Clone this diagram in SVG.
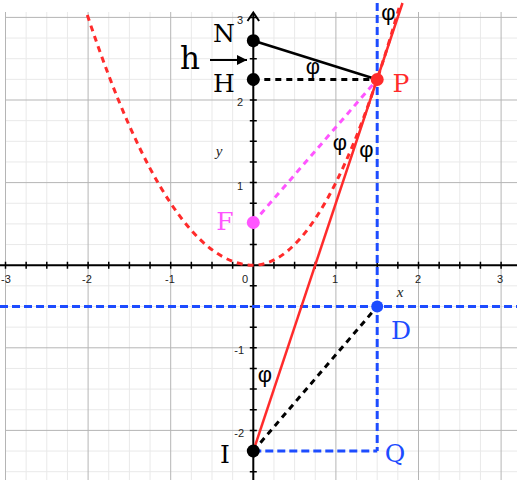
<svg xmlns="http://www.w3.org/2000/svg" width="517" height="480" viewBox="0 0 517 480">
<style>
.minor{stroke:#e9e9e9;stroke-width:1;fill:none}
.major{stroke:#b5b5b5;stroke-width:1;fill:none}
.axis{stroke:#000;stroke-width:2;fill:none}
.tick{stroke:#000;stroke-width:1.5;fill:none}
.tl{font-family:"Liberation Sans",Arial,sans-serif;font-size:11px;fill:#222}
.tlx{text-anchor:middle}
.tly{text-anchor:end}
.big{font-family:'DejaVu Serif','Liberation Serif',serif;font-size:25px;text-anchor:middle}
.phi{font-family:"Liberation Sans",Arial,sans-serif;font-size:22px;text-anchor:middle;fill:#000}
.ax{font-family:"Liberation Serif","Times New Roman",serif;font-style:italic;font-size:15px;text-anchor:middle;fill:#222}
.dash{stroke-width:3;stroke-dasharray:6 5;fill:none}
.bdash{stroke:#1d4cff;stroke-width:3;stroke-dasharray:8 4;fill:none}
</style>
<defs>
<marker id="ah" viewBox="0 0 10 10" refX="10" refY="5" markerWidth="5" markerHeight="5" orient="auto" markerUnits="strokeWidth">
<path d="M0,0 L10,5 L0,10 z" fill="#000"/>
</marker>
</defs>
<rect width="517" height="480" fill="#fff"/>
<g id="grid">
<path class="minor" d="M26.15 12V480M46.8 12V480M67.45 12V480M108.75 12V480M129.4 12V480M150.05 12V480M191.35 12V480M212 12V480M232.65 12V480M273.95 12V480M294.6 12V480M315.25 12V480M356.55 12V480M377.2 12V480M397.85 12V480M439.15 12V480M459.8 12V480M480.45 12V480
M5.5 38.05H517M5.5 58.7H517M5.5 79.35H517M5.5 120.65H517M5.5 141.3H517M5.5 161.95H517M5.5 203.25H517M5.5 223.9H517M5.5 244.55H517M5.5 285.85H517M5.5 306.5H517M5.5 327.15H517M5.5 368.45H517M5.5 389.1H517M5.5 409.75H517M5.5 451.05H517M5.5 471.7H517"/>
<path class="major" d="M5.5 12V480M88.1 12V480M170.7 12V480M335.9 12V480M418.5 12V480M501.1 12V480M5.5 17.4H517M5.5 100H517M5.5 182.6H517M5.5 347.8H517M5.5 430.4H517"/>
</g>
<g id="axes">
<path class="axis" d="M0 265.2H517M253.3 480V13"/>
<path class="axis" d="M247.5 21L253.3 12.5L259.1 21"/>
<path class="tick" d="M5.5 261.7v7M26.15 261.7v7M46.8 261.7v7M67.45 261.7v7M88.1 261.7v7M108.75 261.7v7M129.4 261.7v7M150.05 261.7v7M170.7 261.7v7M191.35 261.7v7M212 261.7v7M232.65 261.7v7M273.95 261.7v7M294.6 261.7v7M315.25 261.7v7M335.9 261.7v7M356.55 261.7v7M377.2 261.7v7M397.85 261.7v7M418.5 261.7v7M439.15 261.7v7M459.8 261.7v7M480.45 261.7v7M501.1 261.7v7
M249.8 17.4h7M249.8 38.05h7M249.8 58.7h7M249.8 79.35h7M249.8 100h7M249.8 120.65h7M249.8 141.3h7M249.8 161.95h7M249.8 182.6h7M249.8 203.25h7M249.8 223.9h7M249.8 244.55h7M249.8 285.85h7M249.8 306.5h7M249.8 327.15h7M249.8 347.8h7M249.8 368.45h7M249.8 389.1h7M249.8 409.75h7M249.8 430.4h7M249.8 451.05h7M249.8 471.7h7"/>
<text class="tl tlx" x="6" y="283">-3</text>
<text class="tl tlx" x="87" y="283">-2</text>
<text class="tl tlx" x="170" y="283">-1</text>
<text class="tl tlx" x="245" y="283">0</text>
<text class="tl tlx" x="335" y="283">1</text>
<text class="tl tlx" x="418" y="283">2</text>
<text class="tl tlx" x="500" y="283">3</text>
<text class="tl tly" x="243" y="24">3</text>
<text class="tl tly" x="243" y="106">2</text>
<text class="tl tly" x="243" y="190">1</text>
<text class="tl tly" x="244" y="354">-1</text>
<text class="tl tly" x="244" y="437">-2</text>
<text class="ax" x="400" y="297">x</text>
<text class="ax" x="219" y="156">y</text>
</g>
<g id="connectors">
<path id="parabola" class="dash" stroke="#ff2b2b" d="M87.3 15Q170.3 265.2 253.3 265.2Q326.8 265.2 400.3 3.4"/>
<path id="directrix" class="bdash" d="M0 306.5H517"/>
<path id="vline" class="bdash" d="M377.2 3V451"/>
<path id="IQ" class="bdash" d="M253.3 451H377.2"/>
<path id="HP" class="dash" stroke="#000" d="M253.3 79.5H377.2"/>
<path id="NP" stroke="#000" stroke-width="2.5" fill="none" d="M253.3 40.7L377.2 79.5"/>
<path id="FP" class="dash" stroke="#ff55ff" d="M253.3 222.5L377.2 79.5"/>
<path id="ID" class="dash" stroke="#000" d="M253.3 451L377.2 306.5"/>
<path id="tangent" stroke="#ff2b2b" stroke-width="2.5" fill="none" d="M253.3 451L402.5 3"/>
<path id="harrow" stroke="#000" stroke-width="2" fill="none" marker-end="url(#ah)" d="M210 60H247"/>
</g>
<g id="N"><circle cx="253.3" cy="40.7" r="6.5" fill="#000"/><text class="big" x="224" y="42" fill="#000">N</text></g>
<g id="H"><circle cx="253.3" cy="79.5" r="6.5" fill="#000"/><text class="big" x="224" y="92" fill="#000">H</text></g>
<g id="P"><circle cx="377.2" cy="79.5" r="6.5" fill="#ff2b2b"/><text class="big" x="401" y="92" fill="#ff2b2b">P</text></g>
<g id="F"><circle cx="253.3" cy="222.5" r="6.5" fill="#ff55ff"/><text class="big" x="225" y="230" fill="#ff55ff">F</text></g>
<g id="D"><circle cx="377.2" cy="306.5" r="6" fill="#1d4cff"/><text class="big" x="401" y="339" fill="#1d4cff">D</text></g>
<g id="I"><circle cx="253.3" cy="451" r="6.5" fill="#000"/><text class="big" x="225" y="463" fill="#000">I</text></g>
<g id="Q"><text class="big" x="395" y="462" fill="#1d4cff">Q</text></g>
<g id="h"><text class="big" x="190" y="69" style="font-size:31px" fill="#000">h</text></g>
<g id="angles">
<text class="phi" x="313" y="74">φ</text>
<text class="phi" x="388.5" y="20">φ</text>
<text class="phi" x="340" y="150">φ</text>
<text class="phi" x="366.5" y="157">φ</text>
<text class="phi" x="265" y="382">φ</text>
</g>
</svg>
